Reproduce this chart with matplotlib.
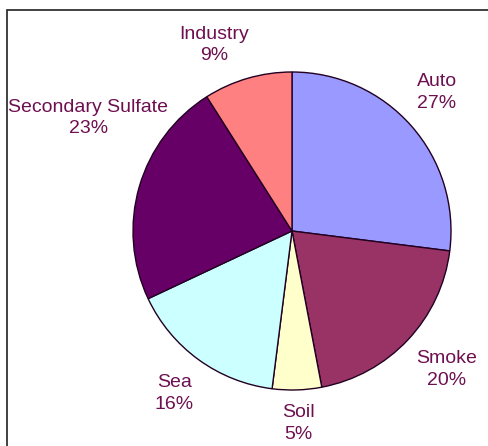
import matplotlib
matplotlib.use("Agg")
import matplotlib.pyplot as plt
from matplotlib.patches import Rectangle

# source shares, clockwise from 12 o'clock
labels = ["Auto", "Smoke", "Soil", "Sea", "Secondary Sulfate", "Industry"]
shares = [27, 20, 5, 16, 23, 9]
colors = ["#9999FF", "#993366", "#FFFFCC", "#CCFFFF", "#660066", "#FF8080"]

# label spots (pie radius = 1), placed like the old Excel chart
label_xy = [(0.91, 0.87), (0.975, -0.87), (0.04, -1.21),
            (-0.74, -1.02), (-1.28, 0.71), (-0.49, 1.17)]

plt.rcParams['font.family'] = ['Liberation Sans', 'DejaVu Sans']

fig = plt.figure(figsize=(4.89, 4.46), dpi=100)
fig.patch.set_facecolor("white")

# chart frame, runs off the right and bottom edges
fig.patches.append(Rectangle((7 / 489, -0.1), 1.2, 1 - 10 / 446 + 0.1,
                             transform=fig.transFigure, fill=False,
                             edgecolor="#333333", linewidth=1.3))

ax = fig.add_axes([133 / 489, 56 / 446, 318 / 489, 318 / 446])
ax.pie(shares, colors=colors, startangle=90, counterclock=False, radius=1,
       wedgeprops=dict(edgecolor="#220022", linewidth=1.0))
ax.set_xlim(-1, 1)
ax.set_ylim(-1, 1)
ax.set_aspect("equal")
ax.axis("off")

for name, val, (x, y) in zip(labels, shares, label_xy):
    ax.text(x, y, "%s\n%d%%" % (name, val), ha="center", va="center",
            color="#6E1050", fontsize=14, linespacing=1.36, clip_on=False)

fig.savefig("out.png", dpi=100)
